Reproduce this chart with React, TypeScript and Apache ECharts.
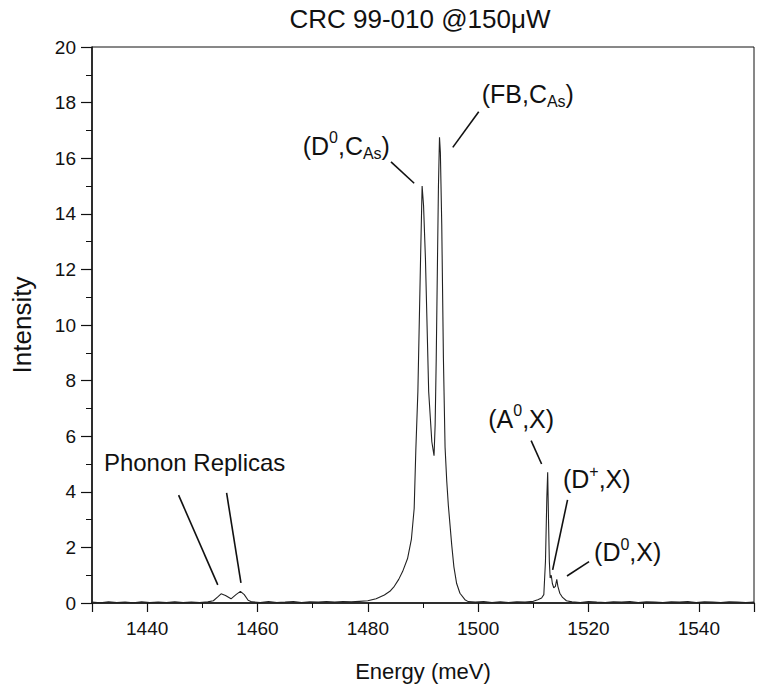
import React, { useEffect, useRef } from "react";
import * as echarts from "echarts";

// Photoluminescence spectrum
const energy = [
  1430, 1431.5, 1433, 1434.5, 1436, 1437.5, 1439, 1440.5, 1442, 1443.5, 1445, 1446.5, 1448, 1449.5,
  1451, 1452, 1452.8, 1453.4, 1454.2, 1455.2, 1456.1, 1456.9, 1457.6, 1458.3, 1459,
  1460.5, 1462, 1463.5, 1465, 1466.5, 1468, 1469.5, 1471, 1472.5, 1474, 1475.5, 1477, 1478.5,
  1480, 1481.5, 1483, 1484, 1484.8, 1485.6, 1486.3, 1487.2, 1487.9, 1488.4, 1488.7, 1489.07,
  1489.56, 1489.84, 1490.1, 1490.44, 1491.03, 1491.6, 1492.0, 1492.2, 1492.4, 1492.63, 1492.8,
  1492.99, 1493.15, 1493.4, 1493.7, 1494.0, 1494.3, 1494.6, 1494.9, 1495.2, 1495.6, 1496.1,
  1496.7, 1497.6, 1498.2, 1499.5, 1501, 1502.5, 1504, 1505.5, 1507, 1508.5, 1510, 1510.8,
  1511.5, 1511.9, 1512.2, 1512.45, 1512.6, 1512.75, 1512.9, 1513.05, 1513.25, 1513.45, 1513.7,
  1514.0, 1514.25, 1514.45, 1514.8, 1515.3, 1516.0, 1517, 1518.5, 1520, 1521.5, 1523, 1524.5,
  1526, 1527.5, 1529, 1530.5, 1532, 1533.5, 1535, 1536.5, 1538, 1539.5, 1541, 1542.5, 1544,
  1545.5, 1547, 1548.5, 1550,
];
const intensity = [
  0.03, 0.01, 0.04, 0.02, 0.03, 0.01, 0.04, 0.02, 0.03, 0.02, 0.04, 0.02, 0.03, 0.02,
  0.04, 0.08, 0.22, 0.33, 0.27, 0.15, 0.3, 0.42, 0.3, 0.1, 0.04,
  0.02, 0.05, 0.02, 0.03, 0.05, 0.02, 0.04, 0.03, 0.05, 0.03, 0.05, 0.04, 0.06,
  0.08, 0.15, 0.29, 0.42, 0.6, 0.85, 1.13, 1.6, 2.3, 3.4, 5.5, 7.6,
  12.4, 15.0, 14.3, 12.4, 7.6, 5.8, 5.3, 6.4, 8.8, 12.4, 15.0,
  16.75, 16.2, 13.6, 8.8, 5.6, 4.4, 3.5, 2.8, 2.1, 1.3, 0.7,
  0.35, 0.12, 0.05, 0.03, 0.05, 0.02, 0.04, 0.02, 0.04, 0.03, 0.06, 0.12,
  0.18, 0.3, 1.5, 3.8, 4.7, 3.0, 1.5, 0.9, 1.0, 0.7, 0.55,
  0.6, 0.85, 0.6, 0.35, 0.2, 0.08, 0.04, 0.02, 0.05, 0.03, 0.02, 0.04,
  0.03, 0.05, 0.02, 0.04, 0.03, 0.02, 0.04, 0.03, 0.05, 0.02, 0.04, 0.03, 0.02,
  0.04, 0.03, 0.02, 0.03,
];
const xTickLabels = [1440, 1460, 1480, 1500, 1520, 1540];
const yTickLabels = [0, 2, 4, 6, 8, 10, 12, 14, 16, 18, 20];

// Peak annotations: text anchor and pointer line, in data units
const annotations = [
  { text: "(D{sup|0},C{sub|As})", at: [1476.1, 16.44], from: [1484.2, 15.87], to: [1488.4, 15.1] },
  { text: "(FB,C{sub|As})", at: [1509.0, 18.31], from: [1500.1, 17.67], to: [1495.4, 16.39] },
  { text: "(A{sup|0},X)", at: [1507.8, 6.62], from: [1509.6, 5.84], to: [1511.5, 5.0] },
  { text: "(D{sup|+},X)", at: [1521.5, 4.46], from: [1516.2, 3.71], to: [1513.5, 1.19] },
  { text: "(D{sup|0},X)", at: [1527.1, 1.82], from: [1520.1, 1.49], to: [1516.1, 0.97] },
];
const phononLabel = { text: "Phonon Replicas", at: [1448.6, 5.04] };
const phononLines = [
  { from: [1445.7, 3.88], to: [1452.8, 0.65] },
  { from: [1454.4, 3.96], to: [1457.0, 0.72] },
];

const FONT = "Liberation Sans, Arial, sans-serif";

export default function App() {
  const ref = useRef<HTMLDivElement>(null);
  useEffect(() => {
    document.body.style.margin = "0";
    document.body.style.overflow = "hidden";
    const chart = echarts.init(ref.current!, null, { renderer: "svg" });
    const data = energy.map((e, i) => [e, intensity[i]]);
    chart.setOption({
      animation: false,
      backgroundColor: "#fff",
      title: {
        text: "CRC 99-010 @150\u03bcW",
        left: 420,
        top: 6,
        textAlign: "center",
        padding: 0,
        textStyle: { fontFamily: FONT, fontSize: 26, fontWeight: "normal", color: "#111" },
      },
      grid: {
        left: 92,
        top: 47,
        bottom: 86,
        right: -10,
        show: true,
        borderColor: "#111",
        borderWidth: 1,
        backgroundColor: "transparent",
      },
      xAxis: {
        type: "value",
        min: 1430,
        max: 1550,
        splitNumber: 6,
        name: "Energy (meV)",
        nameLocation: "middle",
        nameGap: 57,
        nameTextStyle: { fontFamily: FONT, fontSize: 22, color: "#111" },
        axisLine: { lineStyle: { color: "#111", width: 1.5 } },
        axisTick: { inside: false, length: 9, lineStyle: { color: "#111", width: 1.2 } },
        minorTick: { show: true, splitNumber: 2, length: 5, lineStyle: { color: "#111", width: 1 } },
        splitLine: { show: false },
        axisLabel: {
          margin: 16,
          fontFamily: FONT,
          fontSize: 19,
          color: "#111",
          showMinLabel: true,
          showMaxLabel: true,
          formatter: (v: number) => (xTickLabels.includes(Math.round(v)) ? String(Math.round(v)) : ""),
        },
      },
      yAxis: {
        type: "value",
        min: 0,
        max: 20,
        interval: 2,
        name: "Intensity",
        nameLocation: "middle",
        nameGap: 57,
        nameTextStyle: { fontFamily: FONT, fontSize: 26, color: "#111" },
        axisLine: { show: true, lineStyle: { color: "#111", width: 1.5 } },
        axisTick: { show: true, inside: false, length: 11, lineStyle: { color: "#111", width: 1.2 } },
        minorTick: { show: true, splitNumber: 2, length: 6, lineStyle: { color: "#111", width: 1 } },
        splitLine: { show: false },
        axisLabel: {
          margin: 16,
          fontFamily: FONT,
          fontSize: 19,
          color: "#111",
          formatter: (v: number) => (yTickLabels.includes(v) ? String(v) : ""),
        },
      },
      series: [
        {
          type: "line",
          data,
          showSymbol: false,
          symbol: "none",
          lineStyle: { color: "#222", width: 1.1 },
          silent: true,
        },
      ],
    });

    const px = (p: number[]) => chart.convertToPixel({ gridIndex: 0 }, p) as number[];
    const rich = {
      sup: { fontFamily: FONT, fontSize: 16, verticalAlign: "top", lineHeight: 32, fill: "#111" },
      sub: { fontFamily: FONT, fontSize: 16, verticalAlign: "bottom", lineHeight: 32, fill: "#111" },
    };
    const graphic: any[] = [];
    const lineEl = (a: number[], b: number[]) => {
      const p1 = px(a);
      const p2 = px(b);
      return {
        type: "line",
        shape: { x1: p1[0], y1: p1[1], x2: p2[0], y2: p2[1] },
        style: { stroke: "#111", lineWidth: 1.6 },
        silent: true,
      };
    };
    annotations.forEach((a) => {
      const c = px(a.at);
      graphic.push({
        type: "text",
        x: c[0],
        y: c[1],
        silent: true,
        style: {
          text: a.text,
          fontFamily: FONT,
          fontSize: 25,
          lineHeight: 32,
          fill: "#111",
          align: "center",
          verticalAlign: "middle",
          rich,
        },
      });
      graphic.push(lineEl(a.from, a.to));
    });
    const pc = px(phononLabel.at);
    graphic.push({
      type: "text",
      x: pc[0],
      y: pc[1],
      silent: true,
      style: {
        text: phononLabel.text,
        fontFamily: FONT,
        fontSize: 24,
        fill: "#111",
        align: "center",
        verticalAlign: "middle",
      },
    });
    phononLines.forEach((l) => graphic.push(lineEl(l.from, l.to)));
    chart.setOption({ graphic });

    return () => chart.dispose();
  }, []);

  return (
    <div
      ref={ref}
      style={{ position: "fixed", left: 0, top: 0, width: 757, height: 689, background: "#fff" }}
    />
  );
}
